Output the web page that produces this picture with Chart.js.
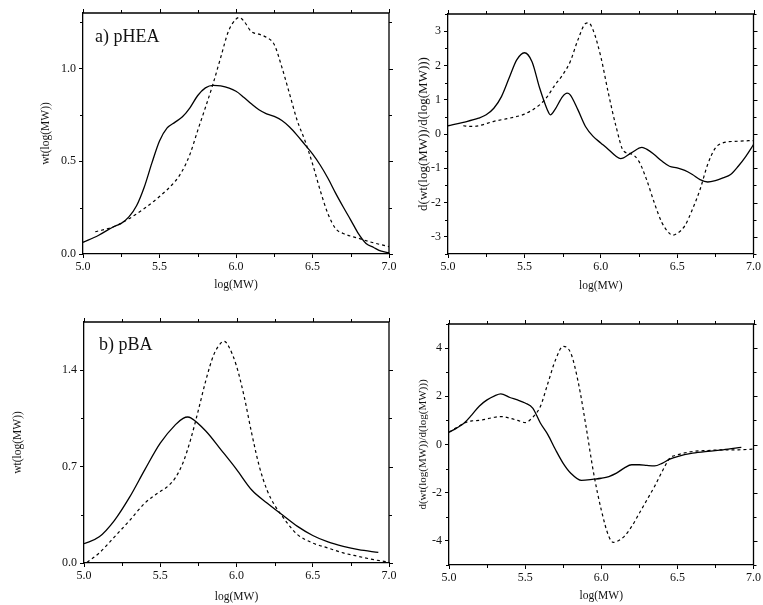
<!DOCTYPE html>
<html><head><meta charset="utf-8">
<script src="https://cdn.jsdelivr.net/npm/chart.js@4.4.0/dist/chart.umd.min.js"></script>
<style>
html,body{margin:0;padding:0;background:#fff;}
#wrap{position:relative;width:763px;height:605px;overflow:hidden;background:#fff;}
canvas{position:absolute;}
</style></head><body>
<div id="wrap">
<canvas id="cA" width="400" height="300" style="left:0;top:0"></canvas>
<canvas id="cB" width="363" height="300" style="left:400px;top:0"></canvas>
<canvas id="cC" width="400" height="305" style="left:0;top:300px"></canvas>
<canvas id="cD" width="363" height="305" style="left:400px;top:300px"></canvas>
</div>
<script>
// ---- shared x axis ----
const xTicks = [5.0, 5.5, 6.0, 6.5, 7.0];
const xMinorTicks = [5.25, 5.75, 6.25, 6.75];

// ---- a) pHEA, wt(log(MW)) ----
const aSolidX = [5.0,5.1,5.2,5.25,5.3,5.35,5.4,5.45,5.5,5.55,5.6,5.65,5.7,5.75,5.8,5.85,5.9,6.0,6.05,6.1,6.15,6.2,6.25,6.3,6.35,6.4,6.45,6.5,6.55,6.6,6.65,6.7,6.75,6.8,6.85,6.9,6.95,7.0];
const aSolidY = [0.063,0.10,0.147,0.165,0.20,0.26,0.36,0.49,0.61,0.68,0.71,0.74,0.79,0.855,0.896,0.91,0.907,0.878,0.846,0.81,0.778,0.756,0.742,0.72,0.685,0.64,0.59,0.54,0.48,0.41,0.33,0.255,0.183,0.11,0.057,0.035,0.015,0.007];
const aDashX = [5.08,5.2,5.3,5.4,5.5,5.6,5.65,5.7,5.75,5.8,5.85,5.9,5.95,6.0,6.02,6.05,6.1,6.15,6.2,6.25,6.3,6.35,6.4,6.45,6.5,6.55,6.6,6.65,6.7,6.8,6.9,7.0];
const aDashY = [0.12,0.147,0.19,0.245,0.31,0.39,0.45,0.54,0.667,0.79,0.918,1.06,1.2,1.267,1.276,1.258,1.2,1.186,1.168,1.13,1.007,0.864,0.72,0.613,0.487,0.344,0.219,0.138,0.111,0.085,0.06,0.04];
const aYTicks = [0.0, 0.5, 1.0];
const aYMinor = [0.25, 0.75, 1.25];

// ---- a) derivative ----
const bSolidX = [5.0,5.1,5.2,5.25,5.3,5.35,5.4,5.45,5.5,5.55,5.6,5.65,5.67,5.7,5.75,5.78,5.8,5.85,5.9,5.95,6.0,6.05,6.1,6.13,6.2,6.27,6.3,6.35,6.4,6.45,6.5,6.55,6.6,6.65,6.7,6.75,6.8,6.85,6.9,6.95,7.0];
const bSolidY = [0.24,0.34,0.46,0.56,0.75,1.09,1.63,2.16,2.37,2.11,1.34,0.71,0.56,0.71,1.09,1.19,1.14,0.71,0.22,-0.07,-0.26,-0.45,-0.65,-0.72,-0.55,-0.39,-0.44,-0.6,-0.79,-0.94,-0.99,-1.06,-1.18,-1.33,-1.40,-1.36,-1.28,-1.18,-0.94,-0.65,-0.31];
const bDashX = [5.1,5.15,5.2,5.3,5.4,5.5,5.6,5.65,5.7,5.75,5.8,5.85,5.9,5.92,5.95,6.0,6.05,6.1,6.15,6.2,6.25,6.3,6.35,6.4,6.45,6.47,6.5,6.55,6.6,6.65,6.7,6.75,6.8,6.9,7.0];
const bDashY = [0.24,0.22,0.24,0.37,0.46,0.58,0.85,1.09,1.43,1.72,2.11,2.74,3.22,3.24,3.03,2.26,1.19,0.22,-0.5,-0.58,-0.8,-1.33,-2.0,-2.58,-2.9,-2.95,-2.9,-2.68,-2.2,-1.62,-0.89,-0.41,-0.26,-0.21,-0.19];
const bYTicks = [-3,-2,-1,0,1,2,3];
const bYMinor = [-3.5,-2.5,-1.5,-0.5,0.5,1.5,2.5,3.5];

// ---- b) pBA, wt(log(MW)) ----
const cSolidX = [5.0,5.1,5.2,5.3,5.4,5.5,5.6,5.65,5.68,5.7,5.8,5.9,6.0,6.1,6.2,6.3,6.4,6.5,6.6,6.7,6.8,6.93];
const cSolidY = [0.14,0.19,0.31,0.48,0.68,0.87,1.005,1.05,1.06,1.054,0.957,0.82,0.68,0.53,0.436,0.35,0.266,0.2,0.153,0.121,0.097,0.077];
const cDashX = [5.02,5.1,5.2,5.3,5.4,5.5,5.55,5.6,5.65,5.7,5.75,5.8,5.85,5.9,5.92,5.95,6.0,6.05,6.1,6.15,6.2,6.25,6.3,6.35,6.4,6.5,6.6,6.7,6.8,6.9,7.0];
const cDashY = [0.005,0.073,0.19,0.31,0.436,0.52,0.557,0.62,0.73,0.9,1.11,1.33,1.51,1.6,1.61,1.57,1.43,1.21,0.94,0.70,0.53,0.42,0.34,0.266,0.206,0.145,0.109,0.073,0.048,0.024,0.007];
const cYTicks = [0.0, 0.7, 1.4];
const cYMinor = [0.35, 1.05];

// ---- b) derivative ----
const dSolidX = [5.0,5.05,5.1,5.15,5.2,5.25,5.3,5.34,5.4,5.45,5.5,5.55,5.6,5.65,5.7,5.75,5.8,5.87,5.95,6.0,6.05,6.1,6.15,6.2,6.25,6.3,6.35,6.4,6.45,6.5,6.6,6.7,6.8,6.92];
const dSolidY = [0.51,0.68,0.89,1.23,1.6,1.85,2.02,2.1,1.95,1.85,1.72,1.51,0.89,0.4,-0.22,-0.78,-1.19,-1.49,-1.44,-1.4,-1.33,-1.19,-0.98,-0.84,-0.84,-0.87,-0.89,-0.78,-0.61,-0.5,-0.36,-0.28,-0.22,-0.12];
const dDashX = [5.0,5.05,5.1,5.15,5.2,5.3,5.35,5.4,5.45,5.5,5.55,5.6,5.65,5.7,5.75,5.8,5.85,5.9,5.95,6.0,6.05,6.08,6.1,6.15,6.2,6.25,6.3,6.35,6.4,6.45,6.5,6.6,6.7,6.8,6.9,7.0];
const dDashY = [0.51,0.7,0.89,0.98,1.0,1.13,1.16,1.09,1.0,0.91,1.13,1.58,2.55,3.52,4.07,3.79,2.55,0.75,-1.19,-2.71,-3.82,-4.06,-4.03,-3.82,-3.4,-2.85,-2.3,-1.74,-1.12,-0.57,-0.43,-0.29,-0.25,-0.22,-0.22,-0.19];
const dYTicks = [-4,-2,0,2,4];
const dYMinor = [-5,-3,-1,1,3,5];

const xTitle = 'log(MW)';
const wtTitle = 'wt(log(MW))';
const dTitle = 'd(wt(log(MW))/d(log(MW)))';

const serif = '"Liberation Serif", "Times New Roman", serif';
const ink = '#111';

function pts(xs, ys){ return xs.map((x,i)=>({x, y: ys[i]})); }

const framePlugin = {
  id: 'frame',
  afterDraw(chart, args, o){
    const {ctx, chartArea:{left,right,top,bottom}} = chart;
    const xs = chart.scales.x, ys = chart.scales.y;
    ctx.save();
    ctx.strokeStyle = '#000';
    ctx.lineWidth = 1.3;
    ctx.beginPath();
    ctx.moveTo(left, top); ctx.lineTo(right, top); ctx.lineTo(right, bottom);
    ctx.stroke();
    ctx.lineWidth = 1;
    const seg = (a,b,c,d)=>{ ctx.beginPath(); ctx.moveTo(a,b); ctx.lineTo(c,d); ctx.stroke(); };
    xTicks.forEach(v=>{ const p = Math.round(xs.getPixelForValue(v))+0.5; seg(p, top, p, top-4); });
    xMinorTicks.forEach(v=>{ const p = Math.round(xs.getPixelForValue(v))+0.5; seg(p, bottom, p, bottom+3); seg(p, top, p, top-3); });
    o.yMajor.forEach(v=>{ const p = Math.round(ys.getPixelForValue(v))+0.5; seg(right, p, right+4, p); });
    o.yMinor.forEach(v=>{ const p = Math.round(ys.getPixelForValue(v))+0.5; if (p < top-0.5 || p > bottom+0.5) return; seg(left, p, left-3, p); seg(right, p, right+3, p); });
    if (o.label){
      ctx.fillStyle = ink;
      ctx.font = '18px ' + serif;
      ctx.textBaseline = 'alphabetic';
      ctx.textAlign = 'left';
      ctx.fillText(o.label, left + o.lx, top + o.ly);
    }
    ctx.restore();
  }
};

function makeChart(id, cfg){
  const tickFont = {family: serif, size: 12};
  const titleFont = {family: serif, size: cfg.yTitleSize || 11};
  const xTitleFont = {family: serif, size: 11.5};
  new Chart(document.getElementById(id), {
    type: 'line',
    data: { datasets: [
      { data: pts(cfg.sx, cfg.sy), borderColor: '#000', borderWidth: 1.3, pointRadius: 0, cubicInterpolationMode: 'monotone', fill: false },
      { data: pts(cfg.dx, cfg.dy), borderColor: '#000', borderWidth: 1.2, borderDash: [3,3], pointRadius: 0, cubicInterpolationMode: 'monotone', fill: false }
    ]},
    options: {
      responsive: false, animation: false, devicePixelRatio: 1,
      layout: { padding: { top: cfg.padTop, right: cfg.padRight, left: 0, bottom: 0 } },
      plugins: { legend: {display:false}, tooltip: {enabled:false}, frame: { yMajor: cfg.yTicks, yMinor: cfg.yMinor, label: cfg.label, lx: cfg.lx, ly: cfg.ly } },
      scales: {
        x: {
          type: 'linear', min: 5, max: 7,
          afterBuildTicks: s => { s.ticks = xTicks.map(v=>({value:v})); },
          afterFit: s => { s.height = cfg.xH; },
          ticks: { font: tickFont, color: ink, padding: 2, maxRotation: 0, autoSkip: false, callback: v => Number(v).toFixed(1) },
          grid: { display: true, drawOnChartArea: false, drawTicks: true, tickLength: 4, color: '#000', lineWidth: 1 },
          border: { display: true, color: '#000', width: 1.3 },
          title: { display: true, text: xTitle, font: xTitleFont, color: ink, padding: { top: 0, bottom: cfg.xTitlePad } }
        },
        y: {
          type: 'linear', min: cfg.yMin, max: cfg.yMax,
          afterBuildTicks: s => { s.ticks = cfg.yTicks.map(v=>({value:v})); },
          afterFit: s => { s.width = cfg.yW; },
          ticks: { font: tickFont, color: ink, padding: 3, autoSkip: false, callback: cfg.fmt },
          grid: { display: true, drawOnChartArea: false, drawTicks: true, tickLength: 4, color: '#000', lineWidth: 1 },
          border: { display: true, color: '#000', width: 1.3 },
          title: { display: true, text: cfg.yTitle, font: titleFont, color: ink, padding: { top: cfg.yTitlePad, bottom: 0 } }
        }
      }
    },
    plugins: [framePlugin]
  });
}

const f1 = v => Number(v).toFixed(1);
const f0 = v => String(Math.round(v));

makeChart('cA', { sx:aSolidX, sy:aSolidY, dx:aDashX, dy:aDashY, yMin:0, yMax:1.3, yTicks:aYTicks, yMinor:aYMinor, fmt:f1,
  padTop:13, padRight:11, xH:46, yW:83, xTitlePad:8, yTitlePad:39, yTitle: wtTitle, yTitleSize:11.5, label:'a) pHEA', lx:12, ly:29 });
makeChart('cB', { sx:bSolidX, sy:bSolidY, dx:bDashX, dy:bDashY, yMin:-3.5, yMax:3.5, yTicks:bYTicks, yMinor:bYMinor, fmt:f0,
  padTop:14, padRight:7, xH:46, yW:48, xTitlePad:7, yTitlePad:16, yTitle: dTitle, yTitleSize:13 });
makeChart('cC', { sx:cSolidX, sy:cSolidY, dx:cDashX, dy:cDashY, yMin:0, yMax:1.75, yTicks:cYTicks, yMinor:cYMinor, fmt:f1,
  padTop:22, padRight:11, xH:42, yW:84, xTitlePad:1, yTitlePad:11, yTitle: wtTitle, yTitleSize:11.5, label:'b) pBA', lx:15, ly:28 });
makeChart('cD', { sx:dSolidX, sy:dSolidY, dx:dDashX, dy:dDashY, yMin:-5, yMax:5, yTicks:dYTicks, yMinor:dYMinor, fmt:f0,
  padTop:24, padRight:8, xH:40, yW:49, xTitlePad:2, yTitlePad:17, yTitle: dTitle, yTitleSize:11 });
</script>
</body></html>
